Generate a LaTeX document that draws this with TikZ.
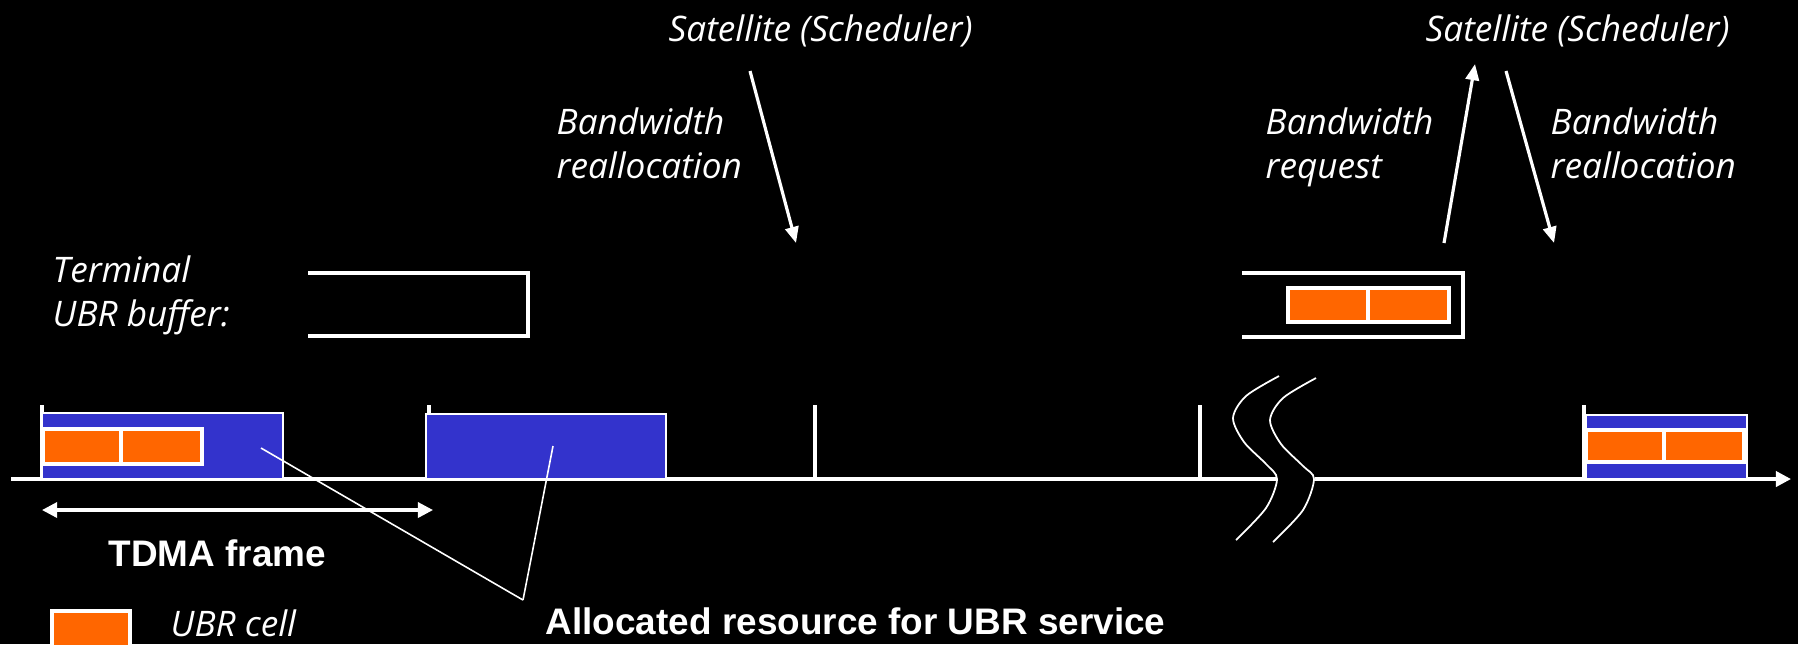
\documentclass[tikz,border=0pt]{standalone}
\usepackage{fontspec}
\setmainfont{Liberation Sans}
\newfontfamily\labelfont{Open Sans}
\usetikzlibrary{arrows.meta}

\definecolor{slotblue}{RGB}{51,51,204}
\definecolor{cellorange}{RGB}{255,102,0}

\tikzset{
  lbl/.style={text=white,font=\labelfont\itshape\fontsize{10}{12.5}\selectfont,align=left,inner sep=0pt,anchor=base west},
  boldlbl/.style={text=white,font=\bfseries\fontsize{10.5}{12}\selectfont,inner sep=0pt,anchor=base west},
  axis/.style={white,line width=1pt},
  slot/.style={fill=slotblue,draw=white,line width=0.5pt},
  cell/.style={fill=cellorange,draw=white,line width=0.9pt},
  sig/.style={white,line width=0.9pt,-{Triangle[length=4.6pt,width=3.8pt]}},
  pointer/.style={white,line width=0.45pt},
  brk/.style={white,line width=0.5pt}
}

\begin{document}
\begin{tikzpicture}[x=0.01cm,y=-0.01cm]
  \fill[black] (0,0) rectangle (1798,644);
  \useasboundingbox (0,0) rectangle (1798,644);

  % labels (base = last line)
  \node[lbl] (sat1) at (668,41) {Satellite (Scheduler)};
  \node[lbl] (sat2) at (1425,41) {Satellite (Scheduler)};
  \node[lbl] (realloc1) at (556,178) {Bandwidth\\reallocation};
  \node[lbl] (request) at (1265,178) {Bandwidth\\request};
  \node[lbl] (realloc2) at (1550,178) {Bandwidth\\reallocation};
  \node[lbl] (term) at (52,326) {Terminal\\UBR buffer:};
  \node[boldlbl] (tdma) at (108,566) {TDMA frame};
  \node[boldlbl] (alloc) at (545,634) {Allocated resource for UBR service};
  \node[lbl] (cell) at (170,636) {UBR cell};

  % arrow ends
  \coordinate (d1s) at (750,71);
  \coordinate (d1e) at (796,243);
  \coordinate (ups) at (1444,243);
  \coordinate (upe) at (1475,64);
  \coordinate (d2s) at (1506,71);
  \coordinate (d2e) at (1554,243);
  \draw[sig] (d1s) -- (d1e);
  \draw[sig] (ups) -- (upe);
  \draw[sig] (d2s) -- (d2e);

  % buffers
  \draw[white,line width=0.9pt] (308,273) -| (528,336) -- (308,336);
  \draw[white,line width=0.9pt] (1242,273) -| (1463,337) -- (1242,337);
  \draw[cell] (1288,288) rectangle (1368,322);
  \draw[cell] (1368,288) rectangle (1449,322);

  % time axis
  \coordinate (t0) at (11,479);
  \coordinate (t1) at (1791,479);
  \draw[axis,-{Triangle[length=4.3pt,width=4.3pt]}] (t0) -- (t1);
  \foreach \x in {42,429,815,1200,1584}
    \draw[axis] (\x,405) -- (\x,479);

  % slots
  \draw[slot] (42,413) rectangle (283,479);
  \draw[slot] (426,414) rectangle (666,479);
  \draw[slot] (1586,415) rectangle (1747,479);
  \draw[cell] (43,429) rectangle (121,464);
  \draw[cell] (121,429) rectangle (202,464);
  \draw[cell] (1586,430) rectangle (1664,462);
  \draw[cell] (1664,430) rectangle (1744,462);

  % break
  \fill[black] plot[smooth] coordinates {(1279,376) (1246,396) (1233,418) (1244,442) (1266,464) (1277,479) (1266,508) (1236,540)}
    -- plot[smooth] coordinates {(1273,542) (1304,508) (1315,479) (1304,464) (1282,442) (1270,420) (1283,398) (1317,377)} -- cycle;
  \foreach \dx/\dy in {0/0,37/2}
    \draw[brk] plot[smooth] coordinates {({1279+\dx},{376+\dy}) ({1246+\dx},{396+\dy}) ({1233+\dx},{418+\dy}) ({1244+\dx},{442+\dy}) ({1266+\dx},{464+\dy}) ({1277+\dx},{479}) ({1266+\dx},{508+\dy}) ({1236+\dx},{540+\dy})};

  % frame length
  \coordinate (f0) at (42,510);
  \coordinate (f1) at (433,510);
  \draw[white,line width=0.9pt,{Triangle[length=4.3pt,width=4.3pt]}-{Triangle[length=4.3pt,width=4.3pt]}] (f0) -- (f1);

  % pointers
  \coordinate (ptip) at (523,600);
  \coordinate (p1) at (261,448);
  \coordinate (p2) at (553,446);
  \draw[pointer] (p1) -- (ptip);
  \draw[pointer] (p2) -- (ptip);

  % legend
  \draw[cell] (52,611) rectangle (130,648);
\end{tikzpicture}
\end{document}
